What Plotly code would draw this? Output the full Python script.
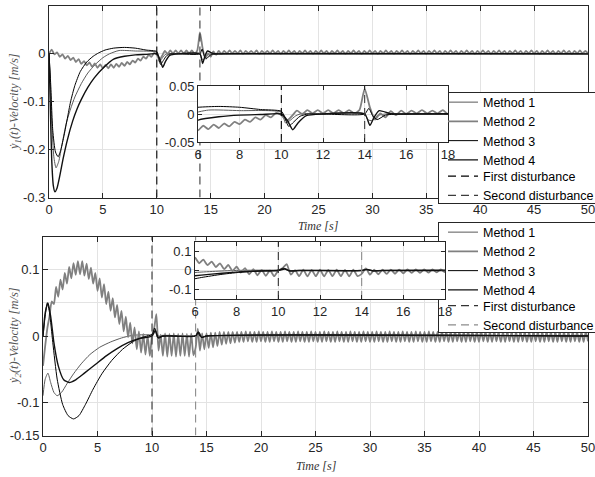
import plotly.graph_objects as go

# ------------------------------------------------------------------ data
method_names = ["Method 1", "Method 2", "Method 3", "Method 4"]
disturbance_names = ["First disturbance", "Second disturbance"]
disturbance_times = [10, 14]

x_range = [0, 50]
inset_x_range = [6, 18]
top_y_range = [-0.3, 0.1]
bot_y_range = [-0.15, 0.15]
inset_top_y_range = [-0.05, 0.05]
inset_bot_y_range = [-0.15, 0.15]

x_ticks = [0, 5, 10, 15, 20, 25, 30, 35, 40, 45, 50]
inset_x_ticks = [6, 8, 10, 12, 14, 16, 18]
top_y_ticks = [-0.3, -0.2, -0.1, 0]
top_y_ticktext = ["-0.3", "-0.2", "-0.1", "0"]
bot_y_ticks = [-0.15, -0.1, 0, 0.1]
bot_y_ticktext = ["-0.15", "-0.1", "0", "0.1"]
bot_y_minor_grid = [-0.05, 0.05]
inset_top_y_ticks = [-0.05, 0, 0.05]
inset_top_y_ticktext = ["-0.05", "0", "0.05"]
inset_bot_y_ticks = [-0.1, 0, 0.1]
inset_bot_y_ticktext = ["-0.1", "0", "0.1"]

# ---- y1 (top) : Method 1
top_m1_t = [0, 0.1, 0.25, 0.45, 0.65, 0.9, 1.2, 1.6, 2.0, 2.4, 3.0, 3.6, 4.3, 5.0, 5.6, 6.5, 8.0,
            10.0, 10.2, 10.4, 10.7, 11.0, 11.5, 14.0, 14.15, 14.35, 14.6, 15.0, 16.0, 50.0]
top_m1_v = [0, -0.04, -0.14, -0.215, -0.238, -0.225, -0.19, -0.145, -0.115, -0.09, -0.062, -0.04,
            -0.022, -0.008, 0.0, 0.007, 0.006, 0.003, -0.016, -0.012, -0.003, 0.001, 0.0, 0.0,
            -0.01, -0.012, -0.003, 0.0, 0.0, 0.0]
# ---- y1 (top) : Method 2 (sampled every 0.25 s from t = 0)
top_m2_t0 = 0.0
top_m2_dt = 0.25
top_m2_v = [
    0.000, 0.009, -0.001, 0.003, -0.006, -0.001, -0.010, -0.004, -0.013, -0.008,
    -0.017, -0.011, -0.021, -0.015, -0.024, -0.018, -0.027, -0.020, -0.029, -0.022,
    -0.030, -0.023, -0.030, -0.022, -0.029, -0.021, -0.027, -0.019, -0.025, -0.017,
    -0.022, -0.014, -0.018, -0.010, -0.014, -0.006, -0.010, -0.002, -0.006, 0.002,
    -0.002, -0.012, -0.004, 0.006, 0.000, 0.007, 0.001, 0.007, 0.001, 0.007,
    0.001, 0.007, 0.001, 0.007, 0.001, 0.007, 0.045, 0.012, -0.010, 0.001,
    -0.006, 0.005, -0.002, 0.006, 0.000, 0.006, 0.001, 0.007, 0.001, 0.006,
    0.001, 0.007, 0.000, 0.006, 0.001, 0.006, 0.001, 0.007, 0.000, 0.006,
    0.001, 0.006, 0.001, 0.007, 0.001, 0.006, 0.000, 0.006, 0.001, 0.007,
    0.001, 0.006, 0.000, 0.006, 0.001, 0.007, 0.001, 0.006, 0.000, 0.006,
    0.001, 0.007, 0.001, 0.006, 0.000, 0.006, 0.001, 0.007, 0.001, 0.006,
    0.000, 0.006, 0.001, 0.007, 0.001, 0.006, 0.000, 0.006, 0.001, 0.007,
    0.001, 0.006, 0.000, 0.006, 0.001, 0.007, 0.001, 0.006, 0.000, 0.006,
    0.001, 0.007, 0.001, 0.006, 0.000, 0.006, 0.001, 0.007, 0.001, 0.006,
    0.000, 0.006, 0.001, 0.007, 0.001, 0.006, 0.000, 0.006, 0.001, 0.007,
    0.001, 0.006, 0.000, 0.006, 0.001, 0.007, 0.001, 0.006, 0.000, 0.006,
    0.001, 0.007, 0.001, 0.006, 0.000, 0.006, 0.001, 0.007, 0.001, 0.006,
    0.000, 0.006, 0.001, 0.007, 0.001, 0.006, 0.000, 0.006, 0.001, 0.007,
    0.001, 0.006, 0.000, 0.006, 0.001, 0.007, 0.001, 0.006, 0.000, 0.006,
    0.001, 0.007, 0.001, 0.006, 0.000, 0.006, 0.001, 0.007, 0.001, 0.006,
    0.001,
]
# ---- y1 (top) : Method 3
top_m3_t = [0, 0.15, 0.35, 0.6, 0.85, 1.1, 1.4, 1.7, 2.0, 2.4, 2.9, 3.5, 4.1, 4.6, 5.2, 6.0, 7.0,
            8.0, 9.0, 10.0, 10.15, 10.35, 10.6, 10.9, 11.3, 12.0, 14.0, 14.2, 14.4, 14.6, 15.0,
            16.0, 50.0]
top_m3_v = [0, -0.06, -0.16, -0.205, -0.215, -0.2, -0.17, -0.135, -0.1, -0.066, -0.037, -0.017,
            -0.005, 0.002, 0.008, 0.012, 0.0135, 0.012, 0.008, 0.005, -0.004, -0.022, -0.014,
            -0.004, 0.0, 0.0, 0.0, 0.01, -0.004, -0.01, -0.002, 0.0, 0.0]
# ---- y1 (top) : Method 4
top_m4_t = [0, 0.1, 0.25, 0.4, 0.55, 0.75, 1.0, 1.3, 1.7, 2.2, 2.6, 3.0, 3.6, 4.2, 5.0, 6.0, 7.0,
            8.0, 9.0, 10.0, 10.3, 10.55, 10.8, 11.2, 12.0, 14.0, 14.25, 14.45, 14.7, 15.2, 16.0,
            50.0]
top_m4_v = [0, -0.09, -0.22, -0.275, -0.288, -0.28, -0.255, -0.22, -0.18, -0.14, -0.115, -0.095,
            -0.07, -0.05, -0.03, -0.011, -0.005, -0.002, -0.001, 0.0, -0.012, -0.028, -0.016,
            -0.003, 0.0, 0.0, -0.02, -0.006, 0.006, 0.001, 0.0, 0.0]

# ---- y2 (bottom) : Method 1
bot_m1_t = [0, 0.2, 0.45, 0.7, 1.0, 1.3, 1.7, 2.2, 2.8, 3.5, 4.3, 5.2, 6.2, 7.2, 8.2, 9.5, 10.0,
            10.3, 10.6, 11.0, 14.0, 14.3, 14.6, 15.0, 50.0]
bot_m1_v = [-0.09, -0.065, -0.056, -0.07, -0.085, -0.09, -0.085, -0.072, -0.057, -0.042, -0.028,
            -0.017, -0.009, -0.003, 0.001, 0.002, 0.002, 0.01, 0.0, 0.001, 0.001, 0.006, -0.002,
            0.0, 0.0]
# ---- y2 (bottom) : Method 2 (sampled every 0.2 s from t = 0)
bot_m2_t0 = 0.0
bot_m2_dt = 0.2
bot_m2_v = [
    -0.045, -0.015, 0.012, 0.030, 0.052, 0.048, 0.074, 0.059, 0.085, 0.070,
    0.095, 0.079, 0.104, 0.087, 0.110, 0.092, 0.113, 0.093, 0.113, 0.091,
    0.109, 0.086, 0.103, 0.079, 0.095, 0.068, 0.087, 0.058, 0.078, 0.048,
    0.067, 0.038, 0.057, 0.028, 0.047, 0.018, 0.038, 0.007, 0.029, -0.002,
    0.020, -0.011, 0.013, -0.020, 0.007, -0.025, 0.003, -0.028, 0.001, -0.030,
    0.000, 0.012, 0.033, -0.022, 0.002, -0.030, 0.004, -0.031, 0.003, -0.030,
    0.004, -0.031, 0.003, -0.030, 0.004, -0.030, 0.003, -0.031, 0.004, -0.029,
    -0.018, 0.011, -0.022, 0.004, -0.020, 0.004, -0.018, 0.005, -0.017, 0.005,
    -0.015, 0.006, -0.013, 0.006, -0.012, 0.006, -0.011, 0.006, -0.010, 0.006,
    -0.009, 0.006, -0.009, 0.007, -0.008, 0.006, -0.009, 0.006, -0.009, 0.007,
    -0.008, 0.006, -0.009, 0.006, -0.009, 0.007, -0.008, 0.006, -0.009, 0.006,
    -0.009, 0.007, -0.008, 0.006, -0.009, 0.006, -0.009, 0.007, -0.008, 0.006,
    -0.009, 0.006, -0.009, 0.007, -0.008, 0.006, -0.009, 0.006, -0.009, 0.007,
    -0.008, 0.006, -0.009, 0.006, -0.009, 0.007, -0.008, 0.006, -0.009, 0.006,
    -0.009, 0.007, -0.008, 0.006, -0.009, 0.006, -0.009, 0.007, -0.008, 0.006,
    -0.009, 0.006, -0.009, 0.007, -0.008, 0.006, -0.009, 0.006, -0.009, 0.007,
    -0.008, 0.006, -0.009, 0.006, -0.009, 0.007, -0.008, 0.006, -0.009, 0.006,
    -0.009, 0.007, -0.008, 0.006, -0.009, 0.006, -0.009, 0.007, -0.008, 0.006,
    -0.009, 0.006, -0.009, 0.007, -0.008, 0.006, -0.009, 0.006, -0.009, 0.007,
    -0.008, 0.006, -0.009, 0.006, -0.009, 0.007, -0.008, 0.006, -0.009, 0.006,
    -0.009, 0.007, -0.008, 0.006, -0.009, 0.006, -0.009, 0.007, -0.008, 0.006,
    -0.009, 0.006, -0.009, 0.007, -0.008, 0.006, -0.009, 0.006, -0.009, 0.007,
    -0.008, 0.006, -0.009, 0.006, -0.009, 0.007, -0.008, 0.006, -0.009, 0.006,
    -0.009, 0.007, -0.008, 0.006, -0.009, 0.006, -0.009, 0.007, -0.008, 0.006,
    -0.009, 0.006, -0.009, 0.007, -0.008, 0.006, -0.009, 0.006, -0.009, 0.007,
    -0.008,
]
# ---- y2 (bottom) : Method 3
bot_m3_t = [0, 0.2, 0.4, 0.6, 0.9, 1.3, 1.8, 2.3, 2.8, 3.3, 3.9, 4.6, 5.4, 6.3, 7.3, 8.3, 9.3,
            10.0, 10.25, 10.5, 10.8, 11.5, 14.0, 14.2, 14.5, 15.0, 50.0]
bot_m3_v = [0, 0.03, 0.05, 0.035, -0.01, -0.065, -0.103, -0.12, -0.125, -0.12, -0.103, -0.08,
            -0.057, -0.037, -0.02, -0.008, -0.001, 0.002, 0.012, -0.002, -0.001, 0.0, 0.0, 0.005,
            -0.002, 0.0, 0.0]
# ---- y2 (bottom) : Method 4
bot_m4_t = [0, 0.2, 0.45, 0.7, 1.0, 1.4, 1.9, 2.4, 3.0, 3.8, 4.8, 5.8, 6.8, 7.8, 8.8, 10.0, 10.3,
            10.6, 11.0, 14.0, 14.25, 14.55, 15.0, 50.0]
bot_m4_v = [0, 0.035, 0.05, 0.03, -0.01, -0.045, -0.066, -0.07, -0.066, -0.056, -0.043, -0.03,
            -0.019, -0.01, -0.004, 0.0, 0.008, -0.003, 0.0, 0.0, 0.006, -0.002, 0.0, 0.0]

# ------------------------------------------------------------------ styling
W, H = 595, 477
FONT = "Liberation Sans, Arial, Helvetica, sans-serif"
SERIF = "Liberation Serif, DejaVu Serif, serif"
AX = "#262626"
GRID = "#e3e3e3"

method_style = [
    dict(color="#5a5a5a", width=1.0),
    dict(color="#808080", width=1.8),
    dict(color="#000000", width=1.0),
    dict(color="#111111", width=1.4),
]
top_dist_colors = ["#000000", "#3c3c3c"]
bot_dist_colors = ["#333333", "#8c8c8c"]
DASH = "8px,5px"


def px_dom_x(a, b):
    return [a / W, b / W]


def px_dom_y(top, bottom):
    return [1 - bottom / H, 1 - top / H]


fig = go.Figure()

# (xaxis, yaxis, data key, disturbance colours, y range, method legend, dist legend, show)
panels = [
    ("x", "y", "top", top_dist_colors, top_y_range, "legend", "legend2", True),
    ("x5", "y5", "top", top_dist_colors, inset_top_y_range, "legend", "legend2", False),
    ("x2", "y2", "bot", bot_dist_colors, bot_y_range, "legend3", "legend4", True),
    ("x6", "y6", "bot", bot_dist_colors, inset_bot_y_range, "legend3", "legend4", False),
]

series = {
    "top": [
        dict(x=top_m1_t, y=top_m1_v),
        dict(x0=top_m2_t0, dx=top_m2_dt, y=top_m2_v),
        dict(x=top_m3_t, y=top_m3_v),
        dict(x=top_m4_t, y=top_m4_v),
    ],
    "bot": [
        dict(x=bot_m1_t, y=bot_m1_v),
        dict(x0=bot_m2_t0, dx=bot_m2_dt, y=bot_m2_v),
        dict(x=bot_m3_t, y=bot_m3_v),
        dict(x=bot_m4_t, y=bot_m4_v),
    ],
}

for xa, ya, key, dcols, yr, leg_m, leg_d, show in panels:
    for i, s in enumerate(series[key]):
        fig.add_trace(go.Scatter(
            **s, mode="lines", name=method_names[i],
            line=dict(color=method_style[i]["color"], width=method_style[i]["width"],
                      shape="spline", smoothing=0.6),
            xaxis=xa, yaxis=ya, legend=leg_m, showlegend=show, hoverinfo="skip"))
    for j, t in enumerate(disturbance_times):
        fig.add_trace(go.Scatter(
            x=[t, t], y=yr, mode="lines", name=disturbance_names[j],
            line=dict(color=dcols[j], width=1.1, dash=DASH),
            xaxis=xa, yaxis=ya, legend=leg_d, showlegend=show, hoverinfo="skip"))

# empty traces so that the two legend-frame axes get drawn (they hold no data)
for xa, ya in (("x3", "y3"), ("x4", "y4")):
    fig.add_trace(go.Scatter(x=[], y=[], mode="lines", xaxis=xa, yaxis=ya,
                             showlegend=False, hoverinfo="skip"))

tickfont = dict(family=FONT, size=13, color=AX)


def axis(domain, rng, anchor, tickvals, ticktext=None, grid=True, ticklen=5):
    d = dict(domain=domain, range=rng, anchor=anchor, tickmode="array", tickvals=tickvals,
             ticks="inside", ticklen=ticklen, tickcolor=AX, tickwidth=1,
             showline=True, linecolor=AX, linewidth=1, mirror="ticks",
             showgrid=grid, gridcolor=GRID, gridwidth=1, zeroline=False,
             tickfont=tickfont, fixedrange=True, ticklabeloverflow="allow")
    if ticktext is not None:
        d["ticktext"] = ticktext
    return d


def frame_x(domain, anchor):
    return dict(domain=domain, range=[0, 1], anchor=anchor, showgrid=False, zeroline=False,
                showticklabels=False, ticks="", showline=True, linecolor=AX, linewidth=1,
                mirror=True, fixedrange=True)


def frame_y(domain, anchor):
    return dict(domain=domain, range=[0, 1], anchor=anchor, showgrid=False, zeroline=False,
                showticklabels=False, ticks="", showline=True, linecolor=AX, linewidth=1,
                mirror=False, fixedrange=True)


def legend_at(top_px):
    return dict(x=443 / W, y=1 - top_px / H, xanchor="left", yanchor="top",
                bgcolor="rgba(0,0,0,0)", borderwidth=0, itemwidth=30, tracegroupgap=0,
                font=dict(family=FONT, size=12.5, color="#000000"))


yaxis2 = axis(px_dom_y(236.5, 435.5), bot_y_range, "x2", bot_y_ticks, bot_y_ticktext)
yaxis2["minor"] = dict(tickmode="array", tickvals=bot_y_minor_grid, showgrid=True,
                       gridcolor=GRID, gridwidth=1, ticks="")

layout = dict(
    width=W, height=H,
    margin=dict(l=0, r=0, t=0, b=0, pad=0, autoexpand=False),
    paper_bgcolor="white", plot_bgcolor="white",
    showlegend=True,
    font=dict(family=FONT, size=13, color=AX),
    xaxis=axis(px_dom_x(49, 588), x_range, "y", x_ticks),
    yaxis=axis(px_dom_y(6, 197.5), top_y_range, "x", top_y_ticks, top_y_ticktext),
    xaxis2=axis(px_dom_x(43, 588), x_range, "y2", x_ticks),
    yaxis2=yaxis2,
    xaxis3=frame_x(px_dom_x(439, 595), "y3"),
    yaxis3=frame_y(px_dom_y(93, 203), "x3"),
    xaxis4=frame_x(px_dom_x(439, 595), "y4"),
    yaxis4=frame_y(px_dom_y(223, 332), "x4"),
    xaxis5=axis(px_dom_x(198, 448), inset_x_range, "y5", inset_x_ticks, ticklen=4),
    yaxis5=axis(px_dom_y(86, 142), inset_top_y_range, "x5", inset_top_y_ticks,
                inset_top_y_ticktext, ticklen=4),
    xaxis6=axis(px_dom_x(195, 445), inset_x_range, "y6", inset_x_ticks, ticklen=4),
    yaxis6=axis(px_dom_y(242, 299), inset_bot_y_range, "x6", inset_bot_y_ticks,
                inset_bot_y_ticktext, ticklen=4),
    legend=legend_at(87.5),
    legend2=legend_at(161.5),
    legend3=legend_at(217.5),
    legend4=legend_at(291),
    annotations=[
        dict(text="<i>ẏ<sub>1</sub>(t)-Velocity [m/s]</i>", textangle=-90,
             x=15 / W, y=1 - 102 / H, xref="paper", yref="paper", showarrow=False,
             xanchor="center", yanchor="middle",
             font=dict(family=SERIF, size=12.5, color="#555555")),
        dict(text="<i>ẏ<sub>2</sub>(t)-Velocity [m/s]</i>", textangle=-90,
             x=15 / W, y=1 - 336 / H, xref="paper", yref="paper", showarrow=False,
             xanchor="center", yanchor="middle",
             font=dict(family=SERIF, size=12.5, color="#555555")),
        dict(text="<i>Time [s]</i>", x=318.5 / W, y=1 - 226 / H, xref="paper", yref="paper",
             showarrow=False, xanchor="center", yanchor="middle",
             font=dict(family=SERIF, size=12, color="#333333")),
        dict(text="<i>Time [s]</i>", x=316 / W, y=1 - 466 / H, xref="paper", yref="paper",
             showarrow=False, xanchor="center", yanchor="middle",
             font=dict(family=SERIF, size=12, color="#333333")),
    ],
)
fig.update_layout(**layout)

fig.write_html("out.html", config={"displayModeBar": False},
               post_script="document.body.style.margin='0';document.body.style.overflow='hidden';")
